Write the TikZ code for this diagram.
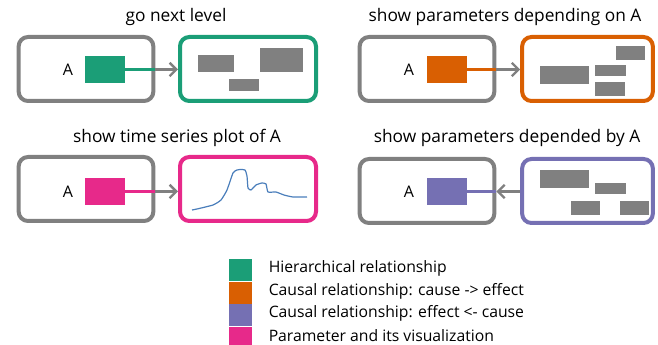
\documentclass[tikz,border=0pt]{standalone}
\usepackage{fontspec}
\setmainfont{Open Sans}
\usetikzlibrary{positioning, arrows.meta, calc}
\definecolor{hiergreen}{HTML}{1B9E77}
\definecolor{causeorange}{HTML}{D95F02}
\definecolor{effectpurple}{HTML}{7570B3}
\definecolor{parampink}{HTML}{E7298A}
\definecolor{boxgray}{HTML}{808080}
\definecolor{seriesblue}{HTML}{4A7EBB}

\begin{document}
\begin{tikzpicture}[
  x=0.75pt, y=-0.75pt, font=\fontsize{12}{14}\selectfont,
  outerbox/.style={draw=#1, line width=3pt, rounded corners=7pt,
                   minimum width=101pt, minimum height=48pt, inner sep=0pt},
  param/.style={fill=#1, minimum width=30pt, minimum height=20pt, inner sep=0pt},
  child/.style={fill=boxgray, inner sep=0pt},
  link/.style={draw=#1, line width=1.6pt},
  jump/.style={draw=boxgray, line width=1.8pt, -{Straight Barb[length=5pt, width=10pt]}},
  title/.style={font=\fontsize{13}{15}\selectfont},
  legbar/.style={fill=#1, minimum width=17pt, minimum height=16.5pt, inner sep=0pt},
  legtext/.style={anchor=west, inner sep=1pt, font=\fontsize{11.8}{13}\selectfont},
]
\useasboundingbox (0,0) rectangle (658,345);

% go next level
\node[title] (t1) at (176,17) {go next level};
\node[outerbox=boxgray] (lb1) at (86,69) {};
\node[outerbox=hiergreen, minimum width=102pt] (rb1) at (248,69) {};
\node at (68,70) (a1) {A};
\node[param=hiergreen] (p1) at (105,69.5) {};
\draw[link=hiergreen] (p1.east) -- (lb1.east |- p1.east);
\draw[jump] (lb1.east |- p1.east) -- (rb1.west |- p1.east);
\node[child, minimum width=27pt, minimum height=13pt] (c11) at (216,63.5) {};
\node[child, minimum width=32pt, minimum height=18pt] (c12) at (281.5,60) {};
\node[child, minimum width=22.5pt, minimum height=9pt] (c13) at (244,85) {};

% show parameters depending on A
\node[title] (t2) at (505,17) {show parameters depending on A};
\node[outerbox=boxgray] (lb2) at (427,69) {};
\node[outerbox=causeorange, minimum width=98pt] (rb2) at (587.5,69) {};
\node at (409,70) (a2) {A};
\node[param=causeorange] (p2) at (447,69.5) {};
\draw[link=causeorange] (p2.east) -- (lb2.east |- p2.east);
\draw[jump] (lb2.east |- p2.east) -- (rb2.west |- p2.east);
\node[child, minimum width=22pt, minimum height=10.5pt] (c21) at (630.5,53) {};
\node[child, minimum width=37pt, minimum height=13.5pt] (c22) at (564.5,75) {};
\node[child, minimum width=23pt, minimum height=8.5pt] (c23) at (610.5,70.5) {};
\node[child, minimum width=22.5pt, minimum height=10.5pt] (c24) at (610,89) {};

% show time series plot of A
\node[title] (t3) at (177,138) {show time series plot of A};
\node[outerbox=boxgray] (lb3) at (86,189) {};
\node[outerbox=parampink, minimum width=102pt] (rb3) at (248,189) {};
\node at (68,192) (a3) {A};
\node[param=parampink] (p3) at (105,191.5) {};
\draw[link=parampink] (p3.east) -- (lb3.east |- p3.east);
\draw[jump] (lb3.east |- p3.east) -- (rb3.west |- p3.east);
\draw[seriesblue, line width=0.9pt, line join=round] plot[smooth, tension=0.3] coordinates {
  (192,210) (197,209) (213,205) (221,200) (227,190) (233,173) (237,170)
  (240,169.5) (245,170) (247,176) (248,188) (251,190) (256,185) (262,183)
  (266,184) (268,192) (276,192) (284,195) (293,197) (307,197)};

% show parameters depended by A
\node[title] (t4) at (507,138) {show parameters depended by A};
\node[outerbox=boxgray] (lb4) at (427,191) {};
\node[outerbox=effectpurple, minimum width=98pt] (rb4) at (587.5,191) {};
\node at (409,192) (a4) {A};
\node[param=effectpurple] (p4) at (447,191.5) {};
\draw[link=effectpurple] (p4.east) -- (lb4.east |- p4.east);
\draw[jump] (rb4.west |- p4.east) -- (lb4.east |- p4.east);
\node[child, minimum width=37pt, minimum height=13.5pt] (c41) at (564.5,179) {};
\node[child, minimum width=23pt, minimum height=8.5pt] (c42) at (610.5,188.5) {};
\node[child, minimum width=22pt, minimum height=10.5pt] (c43) at (585.5,208) {};
\node[child, minimum width=22pt, minimum height=10.5pt] (c44) at (634.5,208) {};

% legend
\node[legbar=hiergreen] (l1) at (240.5,270) {};
\node[legbar=causeorange, below=0pt of l1] (l2) {};
\node[legbar=effectpurple, below=0pt of l2] (l3) {};
\node[legbar=parampink, below=0pt of l3] (l4) {};
\node[legtext] at ([xshift=11.3pt, yshift=1pt]l1.east) {Hierarchical relationship};
\node[legtext] at ([xshift=11.3pt, yshift=1pt]l2.east) {Causal relationship: cause -> effect};
\node[legtext] at ([xshift=11.3pt, yshift=1pt]l3.east) {Causal relationship: effect <- cause};
\node[legtext] at ([xshift=11.3pt, yshift=1.5pt]l4.east) {Parameter and its visualization};

\end{tikzpicture}
\end{document}
